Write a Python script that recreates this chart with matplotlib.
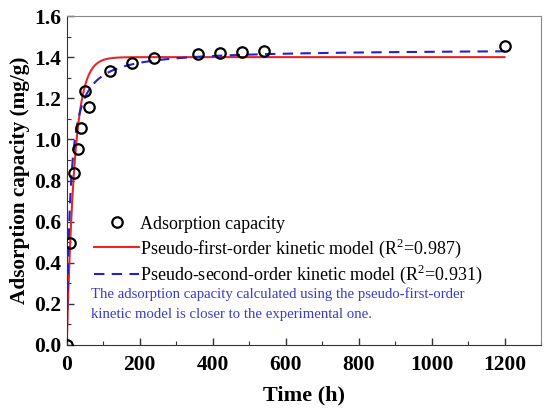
import numpy as np
import matplotlib
matplotlib.use("Agg")
import matplotlib.pyplot as plt
from matplotlib.ticker import MultipleLocator

plt.rcParams['font.family'] = ['Liberation Serif', 'DejaVu Serif']
plt.rcParams['mathtext.fontset'] = 'custom'
plt.rcParams['mathtext.rm'] = 'Liberation Serif'

# Experimental data
time_h = [0, 10, 20, 30, 40, 50, 60, 120, 180, 240, 360, 420, 480, 540, 1200]
capacity = [0.0, 0.495, 0.838, 0.954, 1.055, 1.234, 1.158, 1.332, 1.373, 1.398,
            1.415, 1.420, 1.427, 1.428, 1.452]

# Fitted model parameters
qe1, k1 = 1.40, 0.046          # pseudo-first-order
qe2, k2 = 1.44, 0.0706         # pseudo-second-order
t_fit = np.linspace(0, 1200, 2401)
q1 = qe1 * (1 - np.exp(-k1 * t_fit))
q2 = qe2**2 * k2 * t_fit / (1 + qe2 * k2 * t_fit)

fig = plt.figure(figsize=(5.5, 4.18), dpi=100)
ax = fig.add_axes([66.7/550, 1 - 345/418, (541-66.7)/550, (345-16)/418])

ax.plot(time_h, capacity, 'o', mfc='none', mec='black', mew=1.6, ms=7.5,
        label='Adsorption capacity', zorder=3)
ax.plot(t_fit, q1, '-', color='#e8262a', lw=1.5,
        label='Pseudo-first-order kinetic model (R$^2$=0.987)')
ax.plot(t_fit, q2, '--', color='#2222cc', lw=1.5, dashes=(5, 3.5),
        label='Pseudo-second-order kinetic model (R$^2$=0.931)')

ax.set_xlim(0, 1300)
ax.set_ylim(0, 1.6)
ax.xaxis.set_major_locator(MultipleLocator(200))
ax.xaxis.set_minor_locator(MultipleLocator(100))
ax.yaxis.set_major_locator(MultipleLocator(0.2))
ax.yaxis.set_minor_locator(MultipleLocator(0.1))
ax.yaxis.set_major_formatter(matplotlib.ticker.FormatStrFormatter('%.1f'))
ax.tick_params(which='both', direction='in', top=False, right=False,
               colors='#333333', labelcolor='black')
ax.tick_params(which='major', length=5, width=1, labelsize=15.5)
ax.tick_params(axis='x', which='major', pad=7)
ax.tick_params(axis='y', which='major', pad=4)
ax.tick_params(which='minor', length=3, width=0.8)
for lab in ax.get_xticklabels() + ax.get_yticklabels():
    lab.set_fontweight('bold')
for side in ['left', 'bottom']:
    ax.spines[side].set_color('#333333')
for side in ['top', 'right']:
    ax.spines[side].set_color('#888888')

ax.set_xlabel('Time (h)', fontsize=16, fontweight='bold', labelpad=8)
ax.set_ylabel('Adsorption capacity (mg/g)', fontsize=15.3, fontweight='bold', labelpad=3)

leg = ax.legend(loc='upper left', bbox_to_anchor=(0.043, 0.415), frameon=False,
                fontsize=13, handlelength=2.5, handletextpad=0.05,
                labelspacing=0.2, borderaxespad=0)

ax.text(0.052, 0.1246,
        'The adsorption capacity calculated using the pseudo-first-order\n'
        'kinetic model is closer to the experimental one.',
        transform=ax.transAxes, color='#3a3acc', fontsize=10.6,
        linespacing=1.75, va='center', ha='left')

fig.savefig('out.png', dpi=100)
